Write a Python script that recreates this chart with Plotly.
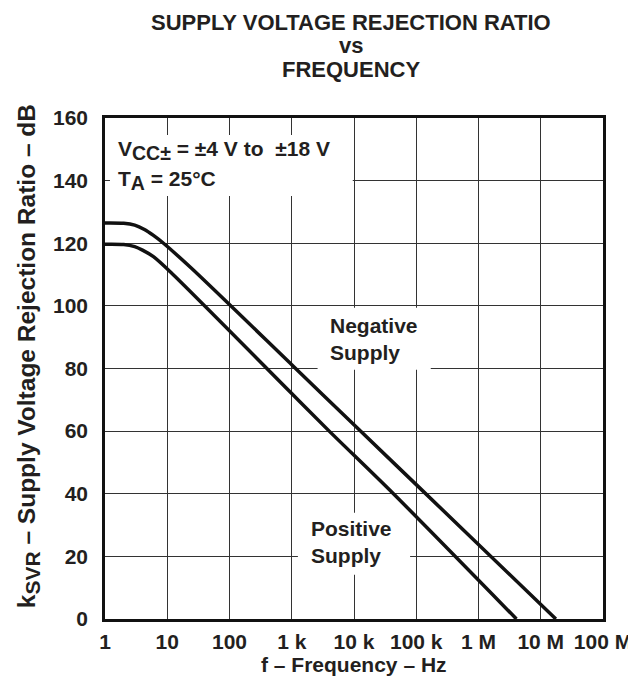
import plotly.graph_objects as go

# ---- data ----
neg_freq = [1, 2, 3, 4.3, 6, 8.7, 24.5, 1e3, 1.2e4, 1.26e5, 1.75e7]
neg_db = [126.5, 126.4, 125.8, 124.4, 122.5, 120.0, 112.0, 81.2, 60.5, 41.0, 0.0]

pos_freq = [1, 2, 3, 4, 6, 11.7, 1e3, 4e3, 4.3e4, 4.07e6]
pos_db = [119.7, 119.6, 118.9, 117.8, 115.7, 110.5, 72.0, 60.0, 40.0, 0.0]

x_tickvals = [1, 10, 100, 1e3, 1e4, 1e5, 1e6, 1e7, 1e8]
x_ticktext = ["1", "10", "100", "1 k", "10 k", "100 k", "1 M", "10 M", "100 M"]
y_tickvals = [0, 20, 40, 60, 80, 100, 120, 140, 160]

FONT = "Liberation Sans, Arial, Helvetica, sans-serif"
TXT = "#231f20"

fig = go.Figure()
for fx, fy in [(neg_freq, neg_db), (pos_freq, pos_db)]:
    fig.add_trace(go.Scatter(
        x=fx, y=fy, mode="lines",
        line=dict(color="#111", width=3.5, shape="spline", smoothing=0.8),
        showlegend=False, hoverinfo="skip"))

# white boxes behind labels (cover gridlines, below traces)
boxes = [
    (10**0.08, 10**3.98, 135.1, 154.6),
    (10**3.415, 10**5.233, 79.6, 99.4),
    (10**3.099, 10**4.901, 14.1, 33.9),
]
for x0, x1, y0, y1 in boxes:
    fig.add_shape(type="rect", xref="x", yref="y", x0=x0, x1=x1, y0=y0, y1=y1,
                  fillcolor="white", line=dict(width=0), layer="between")

ann_font = dict(family=FONT, size=21, color=TXT, weight="bold")


def px_x(px):
    return (px - 97) / 506


def px_y(py):
    return (611 - py) / 501


SUB = "<sub><span style='font-size:19.5px'>{}</span></sub>"

# in-plot labels
fig.add_annotation(xref="paper", yref="paper", x=px_x(108), y=px_y(143), xanchor="left", yanchor="middle",
                   text="V" + SUB.format("CC±") + " = ±4 V to  ±18 V", showarrow=False, font=ann_font)
fig.add_annotation(xref="paper", yref="paper", x=px_x(108), y=px_y(172), xanchor="left", yanchor="middle",
                   text="T" + SUB.format("A") + " = 25°C", showarrow=False, font=ann_font)
fig.add_annotation(xref="paper", yref="paper", x=px_x(324), y=px_y(331),
                   xanchor="left", yanchor="middle", align="left",
                   text="Negative<br>Supply", showarrow=False, font=ann_font)
fig.add_annotation(xref="paper", yref="paper", x=px_x(304), y=px_y(534),
                   xanchor="left", yanchor="middle", align="left",
                   text="Positive<br>Supply", showarrow=False, font=ann_font)

# title lines
for txt, py in [("SUPPLY VOLTAGE REJECTION RATIO", 14), ("vs", 38), ("FREQUENCY", 62)]:
    fig.add_annotation(xref="paper", yref="paper", x=px_x(347), y=px_y(py),
                       xanchor="center", yanchor="middle", text=txt, showarrow=False,
                       font=dict(family=FONT, size=22, color=TXT, weight="bold"))

# axis titles
fig.add_annotation(xref="paper", yref="paper", x=px_x(350), y=px_y(670),
                   xanchor="center", yanchor="bottom", text="f – Frequency – Hz", showarrow=False,
                   font=dict(family=FONT, size=21, color=TXT, weight="bold"))
fig.add_annotation(xref="paper", yref="paper", x=px_x(19), y=px_y(348),
                   xanchor="center", yanchor="middle", textangle=-90,
                   text="k<sub><span style='font-size:21px'>SVR</span></sub> – Supply Voltage Rejection Ratio – dB",
                   showarrow=False,
                   font=dict(family=FONT, size=24.5, color=TXT, weight="bold"))

fig.update_xaxes(type="log", range=[0, 8], tickvals=x_tickvals, ticktext=x_ticktext,
                 showgrid=True, gridcolor="#333", gridwidth=1,
                 showline=True, linecolor="#111", linewidth=2.5, mirror=True,
                 ticks="", ticklabelstandoff=2, zeroline=False,
                 tickfont=dict(family=FONT, size=21, color=TXT, weight="bold"))
fig.update_yaxes(range=[0, 160], tickvals=y_tickvals,
                 showgrid=True, gridcolor="#333", gridwidth=1,
                 showline=True, linecolor="#111", linewidth=2.5, mirror=True,
                 ticks="", ticklabelstandoff=10, zeroline=False,
                 tickfont=dict(family=FONT, size=21, color=TXT, weight="bold"))

fig.update_layout(width=636, height=677, margin=dict(l=97, r=33, t=110, b=66),
                  plot_bgcolor="white", paper_bgcolor="white",
                  font=dict(family=FONT, color=TXT))

fig.write_html("out.html")
